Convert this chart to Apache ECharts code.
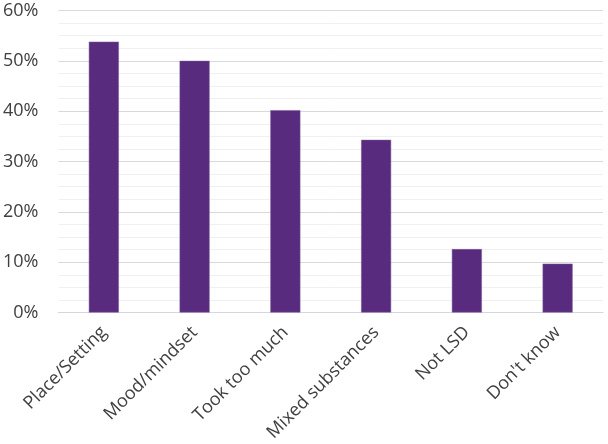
<!DOCTYPE html>
<html>
<head>
<meta charset="utf-8">
<script src="https://cdn.jsdelivr.net/npm/echarts@6/dist/echarts.min.js"></script>
<style>html,body{margin:0;padding:0;background:#fff}#c{width:608px;height:444px}</style>
</head>
<body>
<div id="c"></div>
<script>
var categories = ["Place/Setting", "Mood/mindset", "Took too much", "Mixed substances", "Not LSD", "Don't know"];
var values = [53.8, 50.0, 40.2, 34.3, 12.6, 9.7];
var yTicks = [0, 10, 20, 30, 40, 50, 60];

var chart = echarts.init(document.getElementById('c'));
chart.setOption({
  animation: false,
  grid: {left: 57, right: 5, top: 10.5, bottom: 131.3, containLabel: false},
  xAxis: {
    type: 'category',
    data: categories,
    axisLine: {show: true, lineStyle: {color: '#d9d4e2', width: 1}},
    axisTick: {show: false},
    axisLabel: {rotate: 45, fontSize: 18, color: '#404040', fontFamily: 'Open Sans', margin: 17, interval: 0}
  },
  yAxis: {
    type: 'value',
    min: yTicks[0],
    max: yTicks[yTicks.length - 1],
    interval: 10,
    axisLine: {show: false},
    axisTick: {show: false},
    axisLabel: {formatter: '{value}%', fontSize: 18, color: '#404040', fontFamily: 'Open Sans', margin: 20},
    splitLine: {show: true, lineStyle: {color: '#d9d9d9', width: 1}},
    minorTick: {show: false, splitNumber: 4},
    minorSplitLine: {show: true, lineStyle: {color: '#f0f0f0', width: 1}}
  },
  series: [{
    type: 'bar',
    data: values,
    barWidth: 30,
    itemStyle: {color: '#592b7e', borderColor: '#7a5a98', borderWidth: 0.5}
  }]
});
</script>
</body>
</html>
